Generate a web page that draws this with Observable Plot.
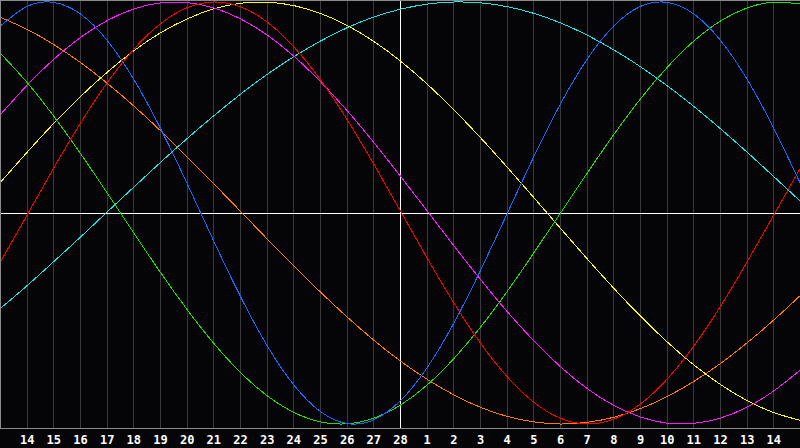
<!DOCTYPE html>
<html>
<head>
<meta charset="utf-8">
<script src="https://cdn.jsdelivr.net/npm/d3@7"></script>
<script src="https://cdn.jsdelivr.net/npm/@observablehq/plot@0.6"></script>
<style>
  html, body { margin: 0; padding: 0; background: #050508; }
  #chart svg { display: block; }
</style>
</head>
<body>
<div id="chart"></div>
<script>
// Day index (0..30) along the x axis; labels sit on indexes 1..29
const dayIndex = d3.range(0, 31);
const labelIndex = d3.range(1, 30);
const dayLabels = ["14","15","16","17","18","19","20","21","22","23","24","25","26","27","28",
                   "1","2","3","4","5","6","7","8","9","10","11","12","13","14"];
const todayIndex = 15;

// Values for each day index (0..30)
const blue = [0.887,0.979,0.998,0.943,0.818,0.633,0.401,0.139,-0.134,-0.396,-0.629,-0.815,-0.941,-0.998,-0.980,-0.889,-0.733,-0.522,-0.272,-0.003,0.267,0.517,0.729,0.887,0.979,0.998,0.943,0.818,0.633,0.401,0.139];
const red = [-0.231,-0.009,0.214,0.426,0.617,0.776,0.897,0.973,1.000,0.977,0.905,0.787,0.631,0.442,0.231,0.009,-0.214,-0.426,-0.617,-0.776,-0.897,-0.973,-1.000,-0.977,-0.905,-0.787,-0.631,-0.442,-0.231,-0.009,0.214];
const green = [0.756,0.618,0.458,0.282,0.095,-0.095,-0.282,-0.458,-0.618,-0.756,-0.866,-0.945,-0.990,-0.999,-0.972,-0.910,-0.815,-0.690,-0.541,-0.372,-0.189,0.000,0.189,0.372,0.541,0.690,0.815,0.910,0.972,0.999,0.990];
const magenta = [0.467,0.606,0.729,0.832,0.912,0.967,0.996,0.997,0.972,0.920,0.843,0.743,0.622,0.485,0.334,0.174,0.010,-0.155,-0.315,-0.467,-0.606,-0.729,-0.832,-0.912,-0.967,-0.996,-0.997,-0.972,-0.920,-0.843,-0.743];
const yellow = [0.146,0.288,0.425,0.552,0.667,0.769,0.854,0.920,0.968,0.994,0.999,0.983,0.946,0.889,0.813,0.720,0.611,0.489,0.357,0.217,0.073,-0.073,-0.217,-0.357,-0.489,-0.611,-0.720,-0.813,-0.889,-0.946,-0.983];
const orange = [0.927,0.870,0.798,0.713,0.615,0.507,0.390,0.266,0.138,0.008,-0.123,-0.251,-0.375,-0.493,-0.603,-0.702,-0.788,-0.862,-0.921,-0.964,-0.990,-1.000,-0.992,-0.968,-0.927,-0.870,-0.798,-0.713,-0.615,-0.507,-0.390];
const cyan = [-0.452,-0.344,-0.230,-0.114,0.005,0.123,0.240,0.353,0.461,0.563,0.657,0.741,0.815,0.878,0.929,0.966,0.990,1.000,0.996,0.978,0.946,0.901,0.843,0.773,0.693,0.603,0.505,0.399,0.288,0.172,0.055];

const seriesNames = ["cyan","orange","yellow","magenta","green","red","blue"];
const seriesValues = {cyan, orange, yellow, magenta, green, red, blue};
const seriesColors = {
  cyan: "#1de6e6", orange: "#ff7a00", yellow: "#ffff00", magenta: "#ff1aff",
  green: "#22e000", red: "#ff0000", blue: "#1a6aff"
};

const rows = seriesNames.flatMap(name =>
  dayIndex.map((d, k) => ({name, day: d, value: seriesValues[name][k]})));

const chart = Plot.plot({
  width: 800,
  height: 448,
  marginTop: 0,
  marginBottom: 20,
  marginLeft: 0,
  marginRight: 0,
  style: {background: "#050508"},
  x: {domain: [0, 30], axis: null, label: null},
  y: {domain: [-1.0213, 1.0071], axis: null, label: null},
  marks: [
    Plot.ruleX(labelIndex, {stroke: "#3a3a3a", strokeWidth: 1, shapeRendering: "crispEdges"}),
    Plot.ruleX([todayIndex], {stroke: "#ffffff", strokeWidth: 1, shapeRendering: "crispEdges"}),
    Plot.ruleY([0], {stroke: "#ffffff", strokeWidth: 1, shapeRendering: "crispEdges"}),
    Plot.line(rows, {
      x: "day", y: "value", z: "name",
      stroke: d => seriesColors[d.name],
      strokeWidth: 1, curve: "natural", shapeRendering: "crispEdges"
    }),
    Plot.frame({stroke: "#8a8a8a", strokeWidth: 1, shapeRendering: "crispEdges"}),
    Plot.axisX(labelIndex, {
      label: null,
      tickSize: 0, tickPadding: 7,
      tickFormat: d => dayLabels[d - 1],
      fill: "#ffffff", fontWeight: "bold", fontSize: 12,
      fontFamily: "DejaVu Sans Mono"
    })
  ]
});

document.getElementById("chart").appendChild(chart);
</script>
</body>
</html>
